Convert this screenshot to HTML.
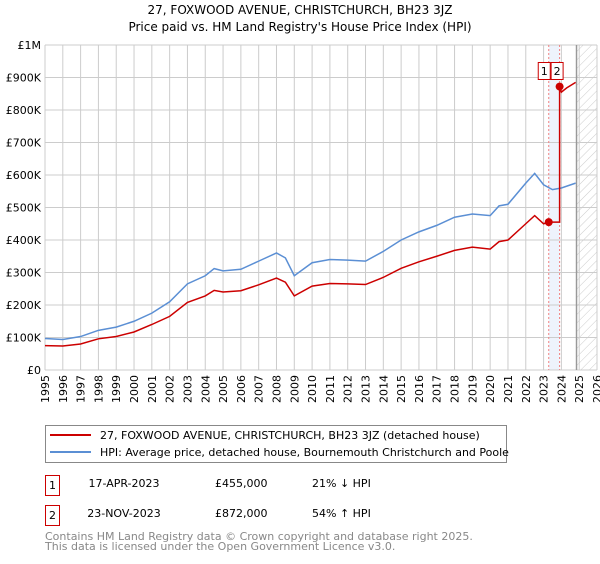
<!DOCTYPE html>
<html><head><meta charset="utf-8"><style>
body{margin:0;background:#fff;font-family:"DejaVu Sans","Liberation Sans",sans-serif;}
svg text{font-family:"DejaVu Sans","Liberation Sans",sans-serif;}
</style></head><body>
<svg id="chart" width="600" height="560" viewBox="0 0 600 560">
<defs><pattern id="hatch" width="6" height="6" patternUnits="userSpaceOnUse" patternTransform="rotate(45)"><line x1="0" y1="0" x2="0" y2="6" stroke="#ccc" stroke-width="1"/></pattern></defs>
<text x="300" y="14" text-anchor="middle" font-size="12">27, FOXWOOD AVENUE, CHRISTCHURCH, BH23 3JZ</text>
<text x="300" y="31" text-anchor="middle" font-size="12">Price paid vs. HM Land Registry's House Price Index (HPI)</text>
<g id="grid"></g><g id="marks"></g><g id="axes"></g>
<g>
<rect x="45.5" y="425.5" width="461" height="37" fill="#fff" stroke="#888"/>
<line x1="50" y1="435" x2="91" y2="435" stroke="#cc0000" stroke-width="2"/>
<text x="100" y="439" font-size="11">27, FOXWOOD AVENUE, CHRISTCHURCH, BH23 3JZ (detached house)</text>
<line x1="50" y1="452" x2="91" y2="452" stroke="#5b8fd4" stroke-width="2"/>
<text x="100" y="456" font-size="11">HPI: Average price, detached house, Bournemouth Christchurch and Poole</text>
</g>
<g font-size="11">
<rect x="45.5" y="475.5" width="14" height="20" fill="#fff" stroke="#cc0000"/>
<text x="52.5" y="489" text-anchor="middle">1</text>
<text x="124" y="487" text-anchor="middle">17-APR-2023</text>
<text x="215" y="487">£455,000</text>
<text x="312" y="487">21% ↓ HPI</text>
<rect x="45.5" y="505.5" width="14" height="20" fill="#fff" stroke="#cc0000"/>
<text x="52.5" y="519" text-anchor="middle">2</text>
<text x="124" y="517" text-anchor="middle">23-NOV-2023</text>
<text x="215" y="517">£872,000</text>
<text x="312" y="517">54% ↑ HPI</text>
</g>
<text x="45" y="540" font-size="11" fill="#888">Contains HM Land Registry data © Crown copyright and database right 2025.</text>
<text x="45" y="550" font-size="11" fill="#888">This data is licensed under the Open Government Licence v3.0.</text>
</svg>
<script>
const yearTicks=[1995,1996,1997,1998,1999,2000,2001,2002,2003,2004,2005,2006,2007,2008,2009,2010,2011,2012,2013,2014,2015,2016,2017,2018,2019,2020,2021,2022,2023,2024,2025,2026];
const valueTicks=[0,100,200,300,400,500,600,700,800,900,1000];
const valueTickLabels=["£0","£100K","£200K","£300K","£400K","£500K","£600K","£700K","£800K","£900K","£1M"];
const hpiYears=[1995,1996,1997,1998,1999,2000,2001,2002,2003,2004,2004.5,2005,2006,2007,2008,2008.5,2009,2010,2011,2012,2013,2014,2015,2016,2017,2018,2019,2020,2020.5,2021,2022,2022.5,2023,2023.5,2024,2024.8];
const hpiValues=[97,94,103,122,132,150,175,210,265,290,312,305,310,335,360,345,290,330,340,338,335,365,400,425,445,470,480,475,505,510,575,605,570,555,560,575];
const propYears=[1995,1996,1997,1998,1999,2000,2001,2002,2003,2004,2004.5,2005,2006,2007,2008,2008.5,2009,2010,2011,2012,2013,2014,2015,2016,2017,2018,2019,2020,2020.5,2021,2022,2022.5,2023,2023.29,2023.9,2023.9,2024,2024.3,2024.8];
const propValues=[75,74,80,96,103,117,140,165,208,228,245,240,244,262,283,270,228,258,266,265,263,285,313,333,350,368,378,372,395,400,450,475,450,455,455,872,855,868,885];
const saleYears=[2023.29,2023.9];
const saleValues=[455,872];
const saleLabels=["1","2"];
const dataEnd=2024.85;
const X0=45,X1=597,Y0=370,Y1=45;
const x=y=>X0+(y-1995)/(2026-1995)*(X1-X0);
const yv=v=>Y0-v/1000*(Y0-Y1);
const NS="http://www.w3.org/2000/svg";
function mk(parent,tag,attrs){const e=document.createElementNS(NS,tag);for(const k in attrs)e.setAttribute(k,attrs[k]);document.getElementById(parent).appendChild(e);return e;}
let e;
e=mk('grid','rect',{x:X0,y:Y1,width:X1-X0,height:Y0-Y1,fill:'#fff'});


e=mk('grid','rect',{x:x(saleYears[0]),y:Y1,width:x(saleYears[1])-x(saleYears[0]),height:Y0-Y1,fill:'#eef3fc'});


e=mk('grid','rect',{x:x(dataEnd),y:Y1,width:X1-x(dataEnd),height:Y0-Y1,fill:'url(#hatch)'});


yearTicks.forEach(t=>{e=mk('grid','line',{x1:x(t),x2:x(t),y1:Y1,y2:Y0,stroke:'#ccc','stroke-width':1});


const tx=x(t)+4,ty=Y0+5;
e=mk('axes','text',{x:tx,y:ty,'text-anchor':'end','font-size':11,transform:'rotate(-90 '+tx+' '+ty+')'});e.textContent=t;

});
valueTicks.forEach((t,i)=>{e=mk('grid','line',{x1:X0,x2:X1,y1:yv(t),y2:yv(t),stroke:'#ccc','stroke-width':1});


e=mk('axes','text',{x:X0-4,y:yv(t)+4,'text-anchor':'end','font-size':11});e.textContent=valueTickLabels[i];

});
e=mk('grid','line',{x1:x(dataEnd),x2:x(dataEnd),y1:Y1,y2:Y0,stroke:'#999','stroke-width':1.5});


saleYears.forEach((s,i)=>{e=mk('grid','line',{x1:x(s),x2:x(s),y1:Y1,y2:Y0,stroke:'#f08080','stroke-dasharray':'2,2','stroke-width':1});

});
e=mk('marks','polyline',{points:hpiYears.map((t,i)=>x(t)+','+yv(hpiValues[i])).join(' '),fill:'none',stroke:'#5b8fd4','stroke-width':1.5});


e=mk('marks','polyline',{points:propYears.map((t,i)=>x(t)+','+yv(propValues[i])).join(' '),fill:'none',stroke:'#cc0000','stroke-width':1.5});


saleYears.forEach((s,i)=>{e=mk('marks','circle',{cx:x(s),cy:yv(saleValues[i]),r:4,fill:'#cc0000'});


const bx=i==0?x(s)-11:x(s)-9;
e=mk('marks','rect',{x:bx+0.5,y:62.5,width:12,height:17,fill:'#fff',stroke:'#cc0000'});


e=mk('marks','text',{x:bx+6.5,y:75,'text-anchor':'middle','font-size':11});e.textContent=saleLabels[i];

});
</script>
</body></html>
